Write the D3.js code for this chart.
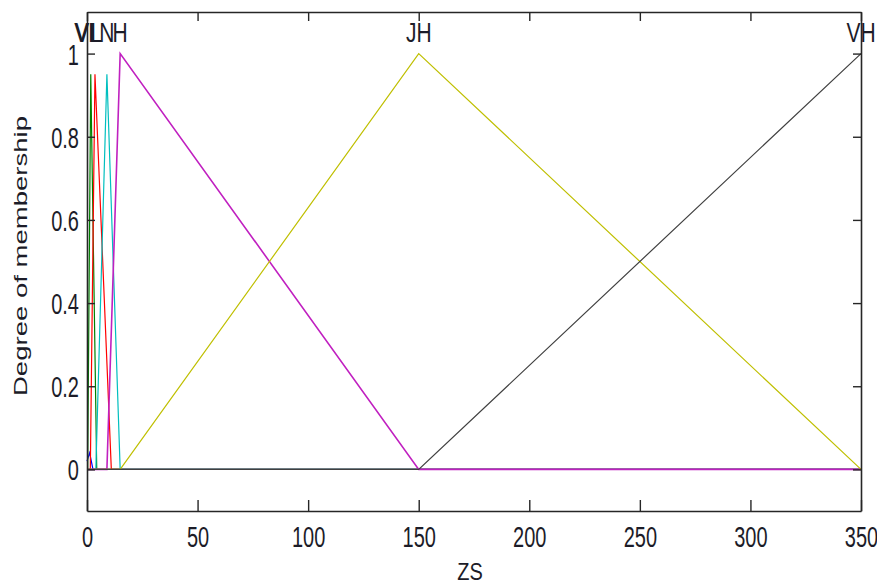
<!DOCTYPE html>
<html>
<head>
<meta charset="utf-8">
<script src="https://cdn.jsdelivr.net/npm/d3@7"></script>
<style>
  body { margin: 0; background: #fff; }
  svg { display: block; font-family: "Liberation Sans", Arial, sans-serif; }
</style>
</head>
<body>
<svg id="chart" width="877" height="586"></svg>
<script>
// membership functions, vertices (x in ZS, y = degree)
const mfNames  = ["VL", "VL", "L", "N", "H", "JH", "VH"];
const mfColors = ["#0000ff", "#008000", "#ff0000", "#00bfbf", "#c020c0", "#bfbf00", "#404040"];
const mfPeaks  = [0, 0.5, 4.2, 9, 15, 150, 350];
const mfX = [
  [0, 1.2, 2.7, 350],
  [0, 0.3, 1.7, 4.4, 350],
  [0, 1.5, 3.6, 11, 350],
  [0, 4, 9, 15, 350],
  [0, 9, 15, 150, 350],
  [0, 15, 150, 350],
  [0, 150, 350]
];
const mfY = [
  [0.02, 0.04, 0, 0],
  [0, 0, 0.95, 0, 0],
  [0, 0, 0.95, 0, 0],
  [0, 0, 0.95, 0, 0],
  [0, 0, 1, 0, 0],
  [0, 0, 1, 0],
  [0, 0, 1]
];
const xTicks = [0, 50, 100, 150, 200, 250, 300, 350];
const yTicks = [0, 0.2, 0.4, 0.6, 0.8, 1];

const svg = d3.select("#chart");
const x = d3.scaleLinear().domain([0, 350]).range([87, 861]);
const y = d3.scaleLinear().domain([-0.1, 1.1]).range([511, 12]);
const ink = "#1c1c28";

// curves
const line = d3.line().x(d => x(d[0])).y(d => y(d[1]));
mfX.forEach((xs, i) => {
  svg.append("path")
    .attr("d", line(xs.map((v, j) => [v, mfY[i][j]])))
    .attr("fill", "none")
    .attr("stroke", mfColors[i])
    .attr("stroke-width", i === 4 ? 1.6 : 1.2);
});

// axes, ticks inside on all four sides
function styleAxis(g) {
  g.selectAll("path").attr("stroke", "#262626").attr("stroke-width", 1.6);
  g.selectAll("line").attr("stroke", "#262626").attr("stroke-width", 1.4);
}
svg.append("g").attr("transform", "translate(0,511)")
  .call(d3.axisBottom(x).tickValues(xTicks).tickSizeInner(-11).tickSizeOuter(0).tickFormat(d3.format("d")))
  .call(styleAxis)
  .call(g => g.selectAll("text")
    .attr("y", 0).attr("dy", 0)
    .attr("transform", "translate(0,36) scale(1,1.5)")
    .attr("font-size", 20).attr("fill", ink));
svg.append("g").attr("transform", "translate(0,12)")
  .call(d3.axisTop(x).tickValues(xTicks).tickSizeInner(-9).tickSizeOuter(0).tickFormat(""))
  .call(styleAxis);
svg.append("g").attr("transform", "translate(87,0)")
  .call(d3.axisLeft(y).tickValues(yTicks).tickSizeInner(-8).tickSizeOuter(0).tickFormat(d3.format("~g")))
  .call(styleAxis)
  .call(g => g.selectAll("text")
    .attr("x", 0).attr("dy", 0)
    .attr("transform", "translate(-8,10.5) scale(1,1.5)")
    .attr("font-size", 20).attr("fill", ink));
svg.append("g").attr("transform", "translate(861,0)")
  .call(d3.axisRight(y).tickValues(yTicks).tickSizeInner(-8).tickSizeOuter(0).tickFormat(""))
  .call(styleAxis);

// mf labels above the peaks
mfNames.forEach((name, i) => {
  svg.append("text")
    .attr("text-anchor", "middle")
    .attr("transform", `translate(${x(mfPeaks[i])},42) scale(1,1.3)`)
    .attr("font-size", 21)
    .attr("fill", ink)
    .text(name);
});

// axis titles
svg.append("text")
  .attr("text-anchor", "middle")
  .attr("transform", "translate(470,580) scale(1,1.2)")
  .attr("font-size", 20).attr("fill", ink)
  .text("ZS");
svg.append("text")
  .attr("text-anchor", "middle")
  .attr("transform", "translate(27,256) scale(1,1.45) rotate(-90)")
  .attr("font-size", 19).attr("fill", ink)
  .text("Degree of membership");
</script>
</body>
</html>
